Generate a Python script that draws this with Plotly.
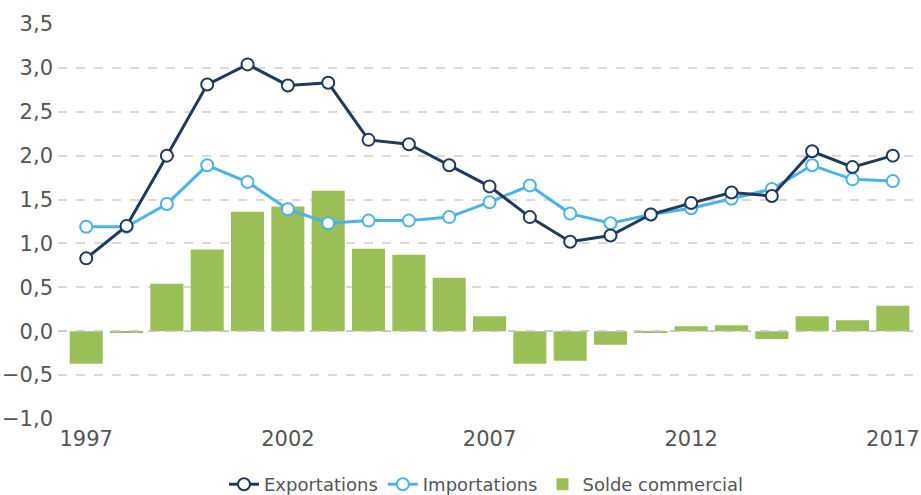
import plotly.graph_objects as go

years = list(range(1997, 2018))
exportations = [0.83, 1.20, 2.00, 2.81, 3.04, 2.80, 2.83, 2.18, 2.13, 1.89, 1.65,
                1.30, 1.02, 1.09, 1.33, 1.46, 1.58, 1.54, 2.05, 1.87, 2.00]
importations = [1.19, 1.19, 1.45, 1.89, 1.70, 1.39, 1.23, 1.26, 1.26, 1.30, 1.47,
                1.66, 1.34, 1.23, 1.33, 1.40, 1.51, 1.62, 1.89, 1.73, 1.71]
solde = [-0.37, -0.02, 0.54, 0.93, 1.36, 1.42, 1.60, 0.94, 0.87, 0.61, 0.17,
         -0.37, -0.335, -0.155, -0.02, 0.056, 0.068, -0.09, 0.17, 0.124, 0.29]
y_ticks = [-1.0, -0.5, 0.0, 0.5, 1.0, 1.5, 2.0, 2.5, 3.0, 3.5]
y_range = [-1.0, 3.5]

NAVY = "#1f3a5c"
LIGHT = "#4cb2ea"
GREEN = "#9bbf57"

fig = go.Figure()
fig.add_trace(go.Bar(x=years, y=solde, name="Solde commercial",
                     marker=dict(color=GREEN, line=dict(width=0))))
fig.add_trace(go.Scatter(x=years, y=importations, name="Importations",
                         mode="lines+markers",
                         line=dict(color=LIGHT, width=3),
                         marker=dict(symbol="circle", size=12, color="white",
                                     line=dict(color=LIGHT, width=2))))
fig.add_trace(go.Scatter(x=years, y=exportations, name="Exportations",
                         mode="lines+markers",
                         line=dict(color=NAVY, width=3),
                         marker=dict(symbol="circle", size=12, color="white",
                                     line=dict(color=NAVY, width=2))))

# zero reference line drawn above the bars (dashed, slightly darker than grid)
fig.add_hline(y=0, line=dict(color="#c4c4c4", width=1.5, dash="dash"), layer="below")
fig.layout.shapes[0].layer = "above"

fig.update_layout(
    width=921, height=495,
    margin=dict(l=58, r=6, t=24, b=76, autoexpand=False),
    paper_bgcolor="white", plot_bgcolor="white",
    separators=",.",
    bargap=0.18,
    font=dict(family="DejaVu Sans", color="#555555", size=18),
    legend=dict(orientation="h", x=0.5, xanchor="center",
                y=-0.119, yanchor="top",
                font=dict(size=18, color="#555555"), traceorder="reversed",
                itemwidth=30),
    showlegend=True,
)
fig.update_xaxes(range=[1996.3, 2017.55], tickmode="linear", tick0=1997, dtick=5,
                 showgrid=False, zeroline=False, showline=False, ticks="",
                 ticklabelstandoff=5,
                 tickfont=dict(size=21), automargin=False)
fig.update_yaxes(range=y_range, tickvals=y_ticks, tickformat=".1f",
                 showgrid=True, gridcolor="#d9d9d9", griddash="dash", gridwidth=1.5,
                 zeroline=False, showline=False, ticks="", ticklabelstandoff=4,
                 tickfont=dict(size=21), automargin=False)

fig.write_html("out.html", config={"displayModeBar": False},
               post_script="document.body.style.margin='0';document.body.style.overflow='hidden';")
